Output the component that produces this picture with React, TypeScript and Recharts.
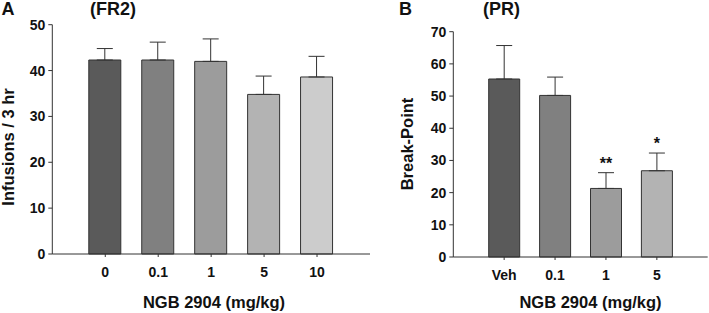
import React from "react";
import { BarChart, Bar, Cell, XAxis, YAxis, ErrorBar, LabelList } from "recharts";

// Panel A: FR2 infusions
const dosesA = ["0", "0.1", "1", "5", "10"];
const infusions = [42.3, 42.3, 42.0, 34.8, 38.6];
const infusionsSem = [2.5, 3.9, 4.9, 4.0, 4.5];
const ticksA = [0, 10, 20, 30, 40, 50];

// Panel B: PR break-point
const dosesB = ["Veh", "0.1", "1", "5"];
const breakPoint = [55.3, 50.2, 21.3, 26.8];
const breakPointSem = [10.4, 5.7, 4.9, 5.5];
const significance = ["", "", "**", "*"];
const ticksB = [0, 10, 20, 30, 40, 50, 60, 70];

const GRAYS = ["#5a5a5a", "#808080", "#9c9c9c", "#b3b3b3", "#cccccc"];

const FONT = "'Liberation Sans', Arial, Helvetica, sans-serif";
const AXIS = "#333333";
const FRAME = "#666666";
const TICK_FS = 14;

const dataA = dosesA.map((dose, i) => ({ dose, value: infusions[i], err: [0, infusionsSem[i]] }));
const dataB = dosesB.map((dose, i) => ({
  dose,
  value: breakPoint[i],
  err: [0, breakPointSem[i]],
  sig: significance[i],
}));

function XTick(props: any) {
  const { x, y, payload } = props;
  return (
    <text x={x} y={y} dy={TICK_FS * 0.71} textAnchor="middle" fontFamily={FONT} fontWeight={700} fontSize={TICK_FS} fill="#111">
      {payload.value}
    </text>
  );
}

function YTick(props: any) {
  const { x, y, payload } = props;
  return (
    <text x={x} y={y} dy={TICK_FS * 0.36} textAnchor="end" fontFamily={FONT} fontWeight={700} fontSize={TICK_FS} fill="#111">
      {payload.value}
    </text>
  );
}

// star marker sitting just above the error bar cap
function StarLabel(props: any) {
  const { x, y, width, height, index } = props;
  const mark = significance[index];
  if (!mark) return null;
  const pxPerUnit = Number(height) / breakPoint[index];
  const capY = Number(y) - breakPointSem[index] * pxPerUnit;
  const cy = capY - 12.7;
  return (
    <text
      x={Number(x) + Number(width) / 2}
      y={cy + 9}
      textAnchor="middle"
      fontFamily={FONT}
      fontWeight={700}
      fontSize={16}
      fill="#111"
    >
      {mark}
    </text>
  );
}

function PanelA() {
  return (
    <BarChart width={380} height={313} data={dataA} margin={{ top: 24.7, right: 10, bottom: 29, left: 0 }}>
      <XAxis
        dataKey="dose"
        height={30}
        padding={{ left: 26.5, right: 26.5 }}
        tickSize={3}
        tickMargin={10.5}
        tick={<XTick />}
        axisLine={{ stroke: AXIS }}
        tickLine={{ stroke: AXIS }}
      />
      <XAxis
        xAxisId="top"
        orientation="top"
        dataKey="dose"
        height={0}
        tick={false}
        tickLine={false}
        axisLine={{ stroke: FRAME }}
      />
      <YAxis
        width={52.3}
        domain={[0, 50]}
        ticks={ticksA}
        tickSize={4}
        tickMargin={3}
        tick={<YTick />}
        axisLine={{ stroke: AXIS }}
        tickLine={{ stroke: AXIS }}
      />
      <YAxis
        yAxisId="right"
        orientation="right"
        width={0}
        domain={[0, 50]}
        tick={false}
        tickLine={false}
        axisLine={{ stroke: FRAME, strokeWidth: 1.5 }}
      />
      <Bar dataKey="value" barSize={32} stroke="#333" strokeWidth={1} isAnimationActive={false}>
        {dataA.map((d, i) => (
          <Cell key={d.dose} fill={GRAYS[i]} />
        ))}
        <ErrorBar dataKey="err" direction="y" width={8} stroke={AXIS} strokeWidth={1} isAnimationActive={false} />
      </Bar>
    </BarChart>
  );
}

function PanelB() {
  return (
    <BarChart width={319} height={313} data={dataB} margin={{ top: 31.7, right: 1.3, bottom: 26, left: 0 }}>
      <XAxis
        dataKey="dose"
        height={30}
        padding={{ left: 25.4, right: 25.4 }}
        tickSize={3}
        tickMargin={10.5}
        tick={<XTick />}
        axisLine={{ stroke: AXIS }}
        tickLine={{ stroke: AXIS }}
      />
      <XAxis
        xAxisId="top"
        orientation="top"
        dataKey="dose"
        height={0}
        tick={false}
        tickLine={false}
        axisLine={{ stroke: FRAME }}
      />
      <YAxis
        width={63.3}
        domain={[0, 70]}
        ticks={ticksB}
        tickSize={4}
        tickMargin={3}
        tick={<YTick />}
        axisLine={{ stroke: AXIS }}
        tickLine={{ stroke: AXIS }}
      />
      <YAxis
        yAxisId="right"
        orientation="right"
        width={0}
        domain={[0, 70]}
        tick={false}
        tickLine={false}
        axisLine={{ stroke: FRAME, strokeWidth: 1.5 }}
      />
      <Bar dataKey="value" barSize={31} stroke="#333" strokeWidth={1} isAnimationActive={false}>
        {dataB.map((d, i) => (
          <Cell key={d.dose} fill={GRAYS[i]} />
        ))}
        <ErrorBar dataKey="err" direction="y" width={8} stroke={AXIS} strokeWidth={1} isAnimationActive={false} />
        <LabelList dataKey="sig" content={StarLabel} />
      </Bar>
    </BarChart>
  );
}

export default function App() {
  const title = { fontFamily: FONT, fontWeight: 700, fill: "#111" } as const;
  return (
    <div style={{ position: "absolute", left: 0, top: 0, width: 709, height: 313, background: "#fff" }}>
      <div style={{ position: "absolute", left: 0, top: 0 }}>
        <PanelA />
      </div>
      <div style={{ position: "absolute", left: 390, top: 0 }}>
        <PanelB />
      </div>
      <svg width={709} height={313} style={{ position: "absolute", left: 0, top: 0, pointerEvents: "none" }}>
        <text x={1.5} y={15} fontSize={18} {...title}>A</text>
        <text x={113} y={14.5} fontSize={18} textAnchor="middle" {...title}>(FR2)</text>
        <text x={399} y={15} fontSize={18} {...title}>B</text>
        <text x={501.5} y={14.5} fontSize={18} textAnchor="middle" {...title}>(PR)</text>
        <text x={214} y={308.3} fontSize={16.5} textAnchor="middle" {...title}>NGB 2904 (mg/kg)</text>
        <text x={590.5} y={308.3} fontSize={16.5} textAnchor="middle" {...title}>NGB 2904 (mg/kg)</text>
        <text transform="translate(13.5,147) rotate(-90)" fontSize={16.5} textAnchor="middle" {...title}>
          Infusions / 3 hr
        </text>
        <text transform="translate(413,144) rotate(-90)" fontSize={16.5} textAnchor="middle" {...title}>
          Break-Point
        </text>
      </svg>
    </div>
  );
}
